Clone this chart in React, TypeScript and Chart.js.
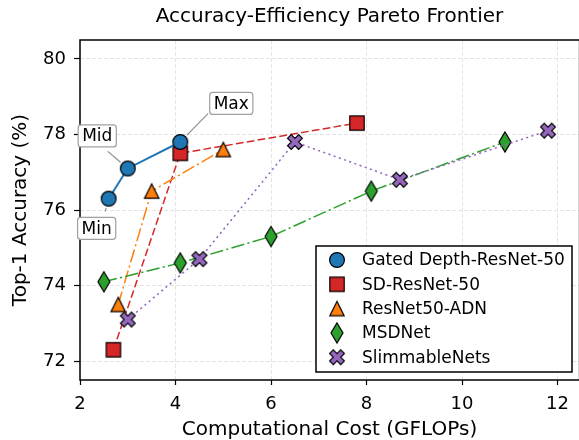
import React, { useEffect, useRef } from 'react';
import { Chart, registerables } from 'chart.js';

Chart.register(...registerables);

const FONT = '"DejaVu Sans", "Liberation Sans", sans-serif';

// ---------- data ----------
const chartTitle = 'Accuracy-Efficiency Pareto Frontier';
const xAxisTitle = 'Computational Cost (GFLOPs)';
const yAxisTitle = 'Top-1 Accuracy (%)';

const xTicks = [2, 4, 6, 8, 10, 12];
const yTicks = [72, 74, 76, 78, 80];

const seriesNames = ['Gated Depth-ResNet-50', 'SD-ResNet-50', 'ResNet50-ADN', 'MSDNet', 'SlimmableNets'];

const gatedX = [2.6, 3.0, 4.1];
const gatedY = [76.3, 77.1, 77.8];
const sdX = [2.7, 4.1, 7.8];
const sdY = [72.3, 77.5, 78.3];
const adnX = [2.8, 3.5, 5.0];
const adnY = [73.5, 76.5, 77.6];
const msdX = [2.5, 4.1, 6.0, 8.1, 10.9];
const msdY = [74.1, 74.6, 75.3, 76.5, 77.8];
const slimX = [3.0, 4.5, 6.5, 8.7, 11.8];
const slimY = [73.1, 74.7, 77.8, 76.8, 78.1];

const gatedLabels = ['Min', 'Mid', 'Max'];

// ---------- styling ----------
const colors = ['#1f77b4', '#d62728', '#ff7f0e', '#2ca02c', '#9467bd'];
const shapes = ['circle', 'square', 'triangle', 'thinDiamond', 'xFilled'];
const dashes: number[][] = [[], [7.7, 3.3], [13.3, 3.3, 2.1, 3.3], [13.3, 3.3, 2.1, 3.3], [2.1, 3.4]];
const widths = [2, 1.5, 1.5, 1.5, 1.5];
const drawOrder = [0, 4, 3, 2, 1];

// annotation offsets in pixels: box center and arrow start relative to point
const annotationStyle = [
  { bx: -12, by: 29.7, ax: -3.5, ay: 13 },
  { bx: -30.5, by: -32.5, ax: -20, ay: -17 },
  { bx: 51, by: -38.6, ax: 27.8, ay: -28.3 },
];

function makeMarker(shape: string, fill: string): HTMLCanvasElement {
  const W = 24, H = 26;
  const c = document.createElement('canvas');
  c.width = W;
  c.height = H;
  const g = c.getContext('2d')!;
  const cx = W / 2, cy = H / 2;
  g.beginPath();
  if (shape === 'circle') {
    g.arc(cx, cy, 7.4, 0, Math.PI * 2);
  } else if (shape === 'square') {
    g.rect(cx - 7.2, cy - 7.2, 14.4, 14.4);
  } else if (shape === 'triangle') {
    g.moveTo(cx, cy - 7.2);
    g.lineTo(cx + 7.2, cy + 7.2);
    g.lineTo(cx - 7.2, cy + 7.2);
    g.closePath();
  } else if (shape === 'thinDiamond') {
    g.moveTo(cx, cy - 10);
    g.lineTo(cx + 6, cy);
    g.lineTo(cx, cy + 10);
    g.lineTo(cx - 6, cy);
    g.closePath();
  } else {
    const s = 7.4 / 2;
    const pts = [[-1, -2], [0, -1], [1, -2], [2, -1], [1, 0], [2, 1], [1, 2], [0, 1], [-1, 2], [-2, 1], [-1, 0], [-2, -1]];
    pts.forEach((p, i) => {
      const px = cx + p[0] * s, py = cy + p[1] * s;
      if (i === 0) g.moveTo(px, py); else g.lineTo(px, py);
    });
    g.closePath();
  }
  g.fillStyle = fill;
  g.fill();
  g.lineWidth = 1.2;
  g.strokeStyle = '#000';
  g.lineJoin = 'miter';
  g.stroke();
  return c;
}

export default function App() {
  const ref = useRef<HTMLCanvasElement>(null);

  useEffect(() => {
    document.body.style.margin = '0';
    const canvas = ref.current!;
    const markers = shapes.map((s, i) => makeMarker(s, colors[i]));
    const xs = [gatedX, sdX, adnX, msdX, slimX];
    const ys = [gatedY, sdY, adnY, msdY, slimY];

    const datasets = seriesNames.map((name, i) => ({
      label: name,
      data: xs[i].map((x, j) => ({ x, y: ys[i][j] })),
      borderColor: colors[i],
      backgroundColor: colors[i],
      borderWidth: widths[i],
      borderDash: dashes[i],
      borderCapStyle: 'butt' as const,
      showLine: true,
      fill: false,
      tension: 0,
      pointStyle: markers[i],
      pointRadius: 8,
      order: drawOrder[i],
    }));

    const overlay = {
      id: 'overlay',
      afterDraw(chart: any) {
        const { ctx, chartArea } = chart;
        const { left, right, top, bottom } = chartArea;
        ctx.save();
        // frame (right spine sits just past the canvas edge)
        const rx = right + 0.6;
        ctx.strokeStyle = '#000';
        ctx.lineWidth = 1.5;
        ctx.setLineDash([]);
        ctx.beginPath();
        ctx.moveTo(left, bottom);
        ctx.lineTo(left, top);
        ctx.lineTo(rx, top);
        ctx.lineTo(rx, bottom);
        ctx.closePath();
        ctx.stroke();

        // title
        ctx.fillStyle = '#000';
        ctx.font = `20px ${FONT}`;
        ctx.textAlign = 'center';
        ctx.textBaseline = 'alphabetic';
        ctx.fillText(chartTitle, (left + right) / 2, 22);

        // annotations
        const xs = chart.scales.x, ysc = chart.scales.y;
        gatedLabels.forEach((lab, i) => {
          const st = annotationStyle[i];
          const px = xs.getPixelForValue(gatedX[i]);
          const py = ysc.getPixelForValue(gatedY[i]);
          // arrow
          const sx = px + st.ax, sy = py + st.ay;
          const d = Math.hypot(st.ax, st.ay);
          const shrink = 9.5;
          const ex = px + (st.ax / d) * shrink, ey = py + (st.ay / d) * shrink;
          ctx.strokeStyle = '#8a8a8a';
          ctx.lineWidth = 1.1;
          ctx.beginPath();
          ctx.moveTo(sx, sy);
          ctx.lineTo(ex, ey);
          ctx.stroke();
          // box
          ctx.font = `17px ${FONT}`;
          const tw = ctx.measureText(lab).width;
          const bw = tw + 8, bh = 22;
          const bx = px + st.bx - bw / 2, by = py + st.by - bh / 2;
          ctx.beginPath();
          if (ctx.roundRect) ctx.roundRect(bx, by, bw, bh, 3); else ctx.rect(bx, by, bw, bh);
          ctx.fillStyle = '#fff';
          ctx.fill();
          ctx.strokeStyle = '#a0a0a0';
          ctx.lineWidth = 1.2;
          ctx.stroke();
          ctx.fillStyle = '#000';
          ctx.textAlign = 'center';
          ctx.textBaseline = 'middle';
          ctx.fillText(lab, bx + bw / 2, by + bh / 2 + 1);
        });

        // legend
        const lw = 256, lh = 126;
        const lx = right - 7 - lw, ly = bottom - 8 - lh;
        ctx.fillStyle = '#fff';
        ctx.fillRect(lx, ly, lw, lh);
        ctx.strokeStyle = '#000';
        ctx.lineWidth = 1.5;
        ctx.strokeRect(lx, ly, lw, lh);
        ctx.font = `17px ${FONT}`;
        ctx.textAlign = 'left';
        ctx.textBaseline = 'middle';
        seriesNames.forEach((name, i) => {
          const cy = ly + 14 + i * 24.3;
          const m = markers[i];
          ctx.drawImage(m, lx + 21 - m.width / 2, cy - m.height / 2);
          ctx.fillStyle = '#000';
          ctx.fillText(name, lx + 46, cy + 1);
        });
        ctx.restore();
      },
    };

    const chart = new Chart(canvas, {
      type: 'scatter',
      data: { datasets: datasets as any },
      options: {
        animation: false,
        responsive: false,
        devicePixelRatio: 1,
        events: [],
        layout: { autoPadding: false, padding: { top: 40, right: 0, left: 0, bottom: 0 } },
        plugins: {
          legend: { display: false },
          title: { display: false },
          tooltip: { enabled: false },
        },
        scales: {
          x: {
            type: 'linear',
            min: 2,
            max: 12.45,
            afterBuildTicks: (s: any) => { s.ticks = xTicks.map((v) => ({ value: v })); },
            afterFit: (s: any) => { s.height = 60; s.paddingLeft = 0; s.paddingRight = 0; },
            ticks: {
              font: { family: FONT, size: 18 },
              color: '#000',
              padding: 9,
              maxRotation: 0,
              includeBounds: false,
            },
            grid: {
              color: '#e4e4e4',
              lineWidth: 1,
              tickColor: '#000',
              tickLength: 5,
              tickWidth: 1.2,
              tickBorderDash: [],
            },
            border: { display: false, dash: [4, 2] },
            title: {
              display: true,
              text: xAxisTitle,
              font: { family: FONT, size: 20, lineHeight: 1 },
              color: '#000',
              padding: { top: 0, bottom: 0 },
            },
          },
          y: {
            type: 'linear',
            min: 71.5,
            max: 80.5,
            afterBuildTicks: (s: any) => { s.ticks = yTicks.map((v) => ({ value: v })); },
            afterFit: (s: any) => { s.width = 80; s.paddingTop = 0; s.paddingBottom = 0; },
            ticks: {
              font: { family: FONT, size: 18 },
              color: '#000',
              padding: 8,
              includeBounds: false,
            },
            grid: {
              color: '#e4e4e4',
              lineWidth: 1,
              tickColor: '#000',
              tickLength: 6,
              tickWidth: 1.2,
              tickBorderDash: [],
            },
            border: { display: false, dash: [4, 2] },
            title: {
              display: true,
              text: yAxisTitle,
              font: { family: FONT, size: 20 },
              color: '#000',
              padding: { top: 9, bottom: 0 },
            },
          },
        },
      },
      plugins: [overlay],
    });
    return () => chart.destroy();
  }, []);

  return (
    <div style={{ position: 'absolute', left: 0, top: 0, width: 579, height: 440 }}>
      <canvas ref={ref} width={579} height={440} style={{ width: 579, height: 440, display: 'block' }} />
    </div>
  );
}
